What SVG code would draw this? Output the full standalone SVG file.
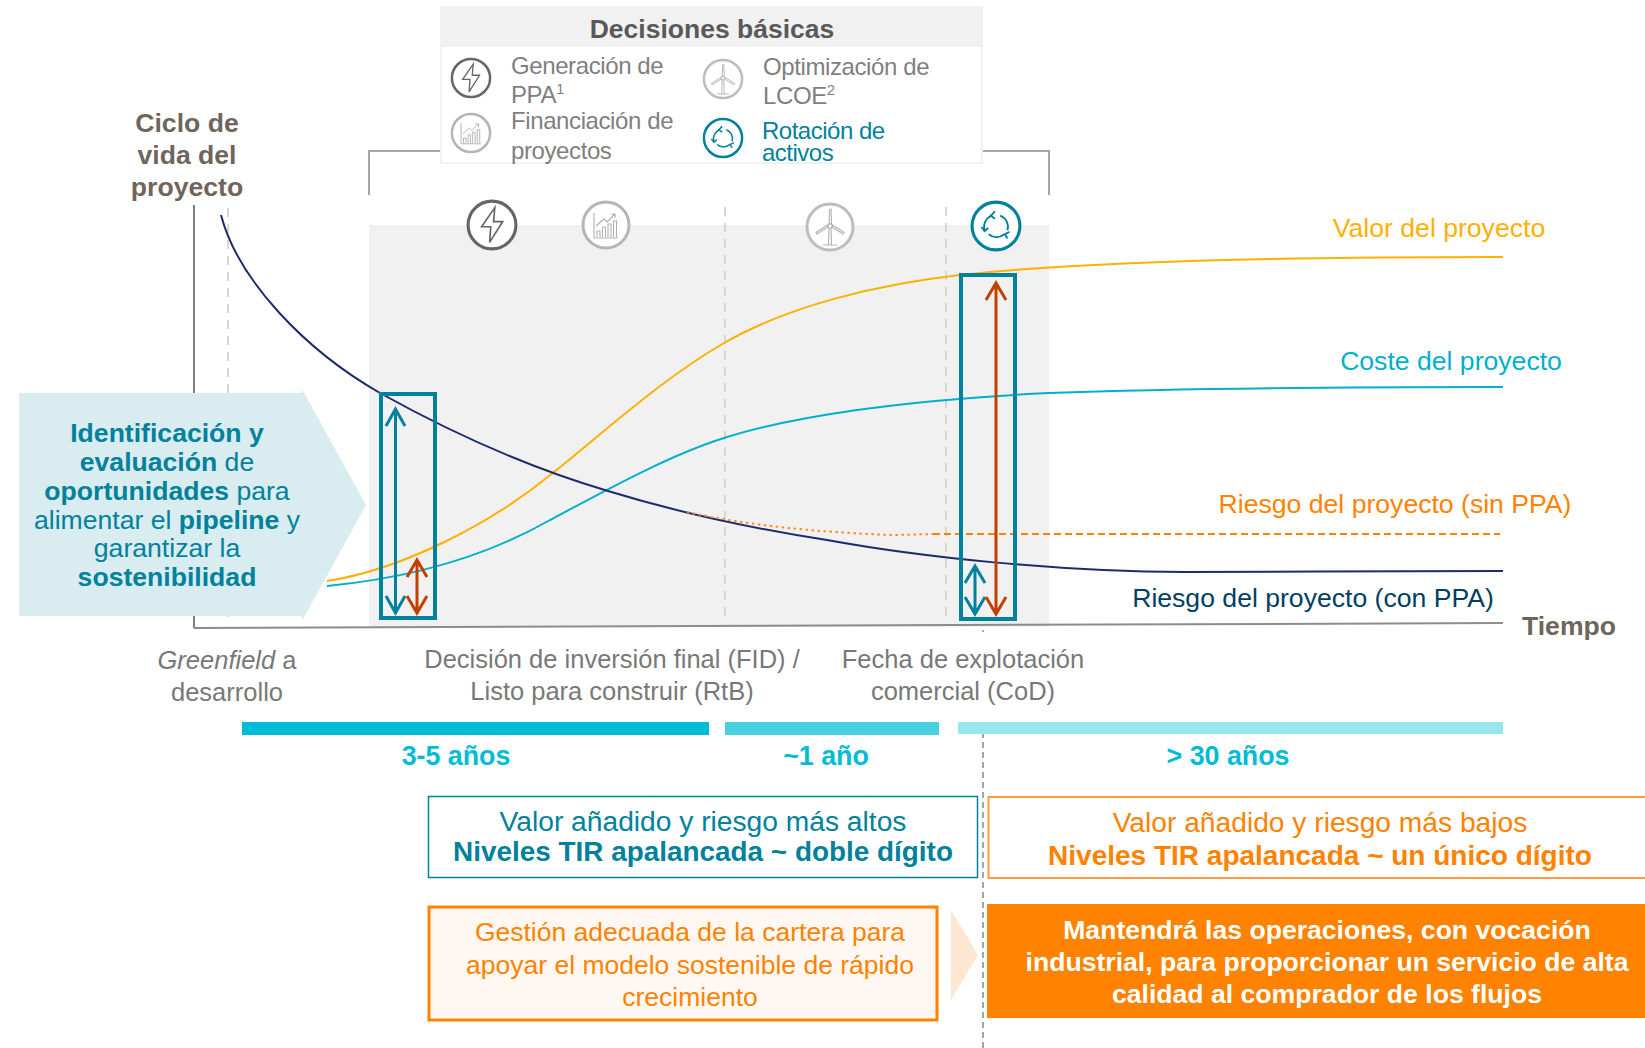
<svg xmlns="http://www.w3.org/2000/svg" width="1645" height="1048" viewBox="0 0 1645 1048">
<style>
text{font-family:"Liberation Sans",Arial,sans-serif}
.c{text-anchor:middle}.b{font-weight:700}
.g{fill:#7f7f7f;font-size:24px;letter-spacing:-.4px}
.t{fill:#00819c}.o{fill:#ff8200}.br{fill:#6f655c;font-weight:700;font-size:26.600px}
.cy{fill:#00bcd6;font-weight:700;font-size:26.800px}
.curve{fill:none;stroke-width:2}
.vd{stroke:#d9d5d0;stroke-width:2;stroke-dasharray:9 7;fill:none}
.ar{fill:none;stroke-width:3}
</style>
<defs>
<g id="bolt"><circle r="23" fill="#fff" stroke="#666" stroke-width="3"/><path d="M2.700-16.700L-10 1.700H-1.200L-2.300 16.700L10.300-3.300H1.500Z" fill="none" stroke="#666" stroke-width="1.600"/></g>
<g id="chart"><circle r="23" fill="#fff" stroke="#b5b5b5" stroke-width="3"/><path d="M-12-12V13H12M-9 12V6H-6V12M-3.500 12V2H-.5V12M2 12V-1H5V12M7.500 12V-4H10.500V12M-10 1L-2-6L1-3L9-11M5-11H9V-7" fill="none" stroke="#b0b0b0" stroke-width="1.100"/></g>
<g id="turb"><circle r="23" fill="#fff" stroke="#bdbdbd" stroke-width="3"/><path d="M-7 18H7M-1.500 18L-1 1M1.500 18L1 1M-1-3L-.5-17L1-18L1.500-3ZM-2 0L-13 7L-14 5.500L-2.500-2ZM2 0L13 7L14 5.500L2.500-2Z" fill="none" stroke="#b0b0b0" stroke-width="1.100"/><circle cy="-1" r="2.200" fill="none" stroke="#b0b0b0" stroke-width="1.100"/></g>
<g id="rot"><circle r="23" fill="#fff" stroke="#00819c" stroke-width="3"/><g fill="none" stroke="#00819c" stroke-width="1.800"><path d="M-11 4A11.500 11.500 0 0 1 -4-10"/><path d="M4-10A11.500 11.500 0 0 1 11 4"/><path d="M8 8A11.500 11.500 0 0 1 -7 8"/><path d="M-14 1L-11 5L-7.500 2M-1-14L-5-10L-1-7M13 5.500L8.500 8L11 12"/></g></g>
</defs>

<g id="plot-bg">
<rect x="369" y="225" width="680" height="402" fill="#f1f1f1"/>
<path d="M369 195V151H441M982 151H1049V195" fill="none" stroke="#a6a6a6" stroke-width="2"/>
</g>

<g id="axes" fill="none">
<path d="M194 205V628" stroke="#7f7f7f" stroke-width="2"/>
<path class="vd" d="M228 208V620M725 207V620M946 207V616"/>
<path d="M194 628L1503 623" stroke="#8c8c8c" stroke-width="2"/>
</g>

<g id="connectors">
<path class="curve" stroke="#ffb000" d="M327 581C400 570 490 525 554 472C610 427 665 377 724 343C790 305 880 284 960 275C1060 264 1230 257 1503 257"/>
<path class="curve" stroke="#00b0ca" d="M327 586C400 579 480 560 550 520C610 488 670 455 724 438C790 417 900 400 1049 393C1200 387.500 1350 387 1503 387"/>
<path class="curve" stroke="#1c2b6e" stroke-width="2.200" d="M221 215C238 280 305 350 380 393C450 432 530 468 608 491C680 513 755 529 827 540C920 557 1060 572 1185 572C1290 572 1400 571 1503 571"/>
<path d="M687 512C720 519 780 531 893 535L933 534" fill="none" stroke="#ff8a1f" stroke-width="2" stroke-dasharray="2.500 3.500"/>
<path d="M933 534H1500" fill="none" stroke="#ff8200" stroke-width="2" stroke-dasharray="7 4"/>
<g fill="none" stroke="#00819c" stroke-width="4">
<rect x="381" y="394" width="54" height="224"/>
<rect x="961" y="275" width="54" height="344"/>
</g>
<g class="ar" stroke="#00819c">
<path d="M395.500 410V612M386 426L395.500 409L405 426M386 596L395.500 613L405 596"/>
<path d="M975 567V613M965 583L975 566L985 583M965 597L975 614L985 597"/>
</g>
<g class="ar" stroke="#c04000">
<path d="M417 561V612M407 577L417 560L427 577M407 596L417 613L427 596"/>
<path d="M996 283V613M986 300L996 283L1006 300M986 597L996 614L1006 597"/>
</g>
<path d="M983 630V632" fill="none" stroke="#8c8c8c" stroke-width="1.500"/>
<path d="M983 722V1048" fill="none" stroke="#7f8c90" stroke-width="1.500" stroke-dasharray="6 4"/>
</g>

<g id="decisiones">
<rect x="441" y="7" width="541" height="156" fill="#fff" stroke="#f1f1f1" stroke-width="2"/>
<rect x="441" y="7" width="541" height="40" fill="#f1f1f1"/>
<text x="712" y="38" class="c b" font-size="26.500" fill="#595959">Decisiones básicas</text>
<use href="#bolt" transform="translate(471 78) scale(.83)"/>
<use href="#chart" transform="translate(471 133) scale(.83)"/>
<use href="#turb" transform="translate(723 79) scale(.83)"/>
<use href="#rot" transform="translate(723 138) scale(.83)"/>
<text x="511" y="74" class="g">Generación de</text>
<text x="511" y="103" class="g">PPA<tspan font-size="15" dy="-9">1</tspan></text>
<text x="511" y="129" class="g">Financiación de</text>
<text x="511" y="159" class="g">proyectos</text>
<text x="763" y="75" class="g">Optimización de</text>
<text x="763" y="104" class="g">LCOE<tspan font-size="15" dy="-9">2</tspan></text>
<text x="762" y="139" font-size="24" class="t" letter-spacing="-.5">Rotación de</text>
<text x="762" y="161" font-size="24" class="t" letter-spacing="-.5">activos</text>
</g>

<g id="icons-timeline">
<use href="#bolt" transform="translate(492 225) scale(1.04)"/>
<use href="#chart" transform="translate(606 225)"/>
<use href="#turb" transform="translate(830 227)"/>
<use href="#rot" transform="translate(996 226) scale(1.04)"/>
</g>

<g id="ciclo">
<text x="187" y="132" class="c br">Ciclo de</text>
<text x="187" y="164" class="c br">vida del</text>
<text x="187" y="196" class="c br">proyecto</text>
</g>

<g id="pentagon">
<path d="M19 393H302V389L366 505L302 621V616H19Z" fill="#d9ecf0"/>
<g font-size="26.600" class="c t">
<text x="167" y="442" class="b">Identificación y</text>
<text x="167" y="471"><tspan class="b">evaluación</tspan> de</text>
<text x="167" y="500"><tspan class="b">oportunidades</tspan> para</text>
<text x="167" y="529">alimentar el <tspan class="b">pipeline</tspan> y</text>
<text x="167" y="557">garantizar la</text>
<text x="167" y="586" class="b">sostenibilidad</text>
</g>
</g>

<g id="series-labels" font-size="26.600">
<text x="1439" y="237" class="c" fill="#ffb000">Valor del proyecto</text>
<text x="1451" y="370" class="c" fill="#00b0ca">Coste del proyecto</text>
<text x="1395" y="513" class="c o">Riesgo del proyecto (sin PPA)</text>
<text x="1313" y="607" class="c" fill="#003f63">Riesgo del proyecto (con PPA)</text>
<text x="1569" y="635" class="c br">Tiempo</text>
</g>

<g id="milestones" font-size="25.500" class="c" fill="#787878">
<text x="227" y="669"><tspan font-style="italic">Greenfield</tspan> a</text>
<text x="227" y="701">desarrollo</text>
<text x="612" y="668">Decisión de inversión final (FID) /</text>
<text x="612" y="700">Listo para construir (RtB)</text>
<text x="963" y="668">Fecha de explotación</text>
<text x="963" y="700">comercial (CoD)</text>
</g>

<g id="timeline">
<rect x="242" y="722" width="467" height="13" fill="#00bcd6"/>
<rect x="725" y="722" width="214" height="13" fill="#47d1e0"/>
<rect x="958" y="722" width="545" height="12" fill="#99e6ee"/>
<text x="456" y="765" class="c cy">3-5 años</text>
<text x="826" y="765" class="c cy">~1 año</text>
<text x="1228" y="765" class="c cy">&gt; 30 años</text>
</g>

<g id="box-altos">
<rect x="428.500" y="796.500" width="549" height="81" fill="#fff" stroke="#00819c" stroke-width="1.500"/>
<text x="703" y="831" class="c t" font-size="28.200">Valor añadido y riesgo más altos</text>
<text x="703" y="861" class="c b t" font-size="27.900">Niveles TIR apalancada ~ doble dígito</text>
</g>
<g id="box-bajos">
<rect x="988.500" y="797" width="670" height="81" fill="#fff" stroke="#ff9a3c" stroke-width="2"/>
<text x="1320" y="832" class="c o" font-size="28.200">Valor añadido y riesgo más bajos</text>
<text x="1320" y="865" class="c b o" font-size="28">Niveles TIR apalancada ~ un único dígito</text>
</g>
<g id="box-gestion">
<rect x="429" y="907" width="508" height="113" fill="#fff8f2" stroke="#ff8200" stroke-width="3"/>
<g class="c o" font-size="26.500">
<text x="690" y="941">Gestión adecuada de la cartera para</text>
<text x="690" y="974">apoyar el modelo sostenible de rápido</text>
<text x="690" y="1006">crecimiento</text>
</g>
</g>
<path id="arrow-mid" d="M951 910L978 955L951 1000Z" fill="#fde6d2"/>
<g id="box-mantendra">
<rect x="987" y="904" width="658" height="114" fill="#ff8200"/>
<g class="c b" font-size="26.600" fill="#fff">
<text x="1327" y="939">Mantendrá las operaciones, con vocación</text>
<text x="1327" y="971">industrial, para proporcionar un servicio de alta</text>
<text x="1327" y="1003">calidad al comprador de los flujos</text>
</g>
</g>
</svg>
